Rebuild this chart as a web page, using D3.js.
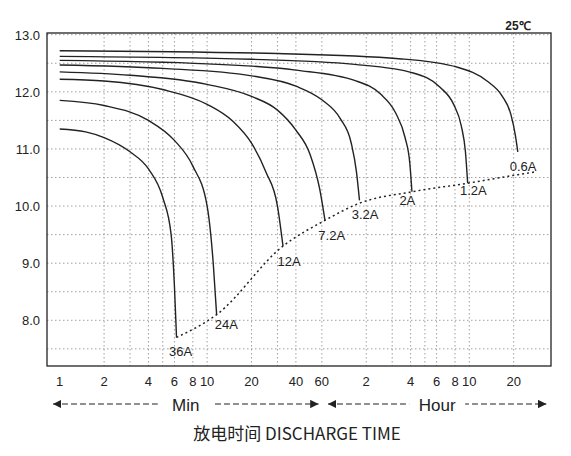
<!DOCTYPE html>
<html><head><meta charset="utf-8">
<script src="https://cdn.jsdelivr.net/npm/d3@7"></script>
<style>body{margin:0;background:#fff}</style></head>
<body><svg id="c" width="571" height="456"></svg>
<script>
const tickMinutes=[1,2,4,6,8,10,20,40,60,120,240,360,480,600,1200];
const tickLabels=["1","2","4","6","8","10","20","40","60","2","4","6","8","10","20"];
const gridMinutes=[2,3,4,5,6,8,10,20,30,40,60,120,180,240,300,360,480,600,1200];
const yTicks=[8,9,10,11,12,13];
const currents=["36A","24A","12A","7.2A","3.2A","2A","1.2A","0.6A"];
const curveTimes=[
 [1,1.5,2,3,4,5,5.7,6,6.2],
 [1,2,4,6,8,10,11,11.6],
 [1,2,5,10,15,20,25,30,32.7],
 [1,3,10,20,30,40,50,58,63],
 [1,5,20,40,60,80,95,103,108],
 [1,10,40,100,150,190,220,237,245],
 [1,20,100,250,380,470,530,565,585],
 [1,30,200,500,800,1000,1150,1230,1280]];
const curveVolts=[
 [11.35,11.3,11.2,10.95,10.65,10.15,9.5,8.6,7.7],
 [11.85,11.76,11.5,11.15,10.7,10.0,9.0,8.1],
 [12.22,12.19,12.04,11.78,11.48,11.1,10.6,10.0,9.3],
 [12.35,12.29,12.13,11.92,11.68,11.33,10.9,10.3,9.75],
 [12.47,12.41,12.28,12.1,11.86,11.53,11.1,10.6,10.1],
 [12.55,12.49,12.38,12.2,11.96,11.63,11.2,10.75,10.25],
 [12.62,12.57,12.48,12.33,12.08,11.78,11.4,10.95,10.4],
 [12.72,12.67,12.58,12.43,12.18,11.93,11.6,11.25,10.95]];
const cutTimes=[6.2,11.6,32.7,63,108,245,585,1280,1700];
const cutVolts=[7.7,8.1,9.3,9.75,10.05,10.25,10.4,10.55,10.6];
const labelTimes=[6.6,13.5,36,70,118,228,640,1390];
const labelVolts=[7.38,7.85,8.95,9.4,9.78,10.02,10.2,10.62];

const svg=d3.select("#c");
const L=47,R=551,T=33,B=366;
const x=d3.scaleLog().domain([0.82,2150]).range([L,R]);
const y=d3.scaleLinear().domain([7.2,13.03]).range([B,T]);
const g=svg.append("g");
g.selectAll(".gx").data(gridMinutes).join("line").attr("x1",d=>x(d)).attr("x2",d=>x(d)).attr("y1",T).attr("y2",B).attr("stroke","#888").attr("stroke-width",0.8).attr("stroke-dasharray","1.5,2.5");
g.selectAll(".gy").data(d3.range(7.5,13.01,0.5)).join("line").attr("x1",L).attr("x2",R).attr("y1",d=>y(d)).attr("y2",d=>y(d)).attr("stroke","#888").attr("stroke-width",0.8).attr("stroke-dasharray","1.5,2.5");
g.append("rect").attr("x",L).attr("y",T).attr("width",R-L).attr("height",B-T).attr("fill","none").attr("stroke","#222").attr("stroke-width",1.3);
g.selectAll(".yl").data(yTicks).join("text").attr("x",L-7).attr("y",d=>y(d)+5).attr("text-anchor","end").attr("font-family","Liberation Sans, Arial").attr("font-size",13).attr("fill","#222").text(d=>d.toFixed(1));
g.selectAll(".xl").data(tickMinutes).join("text").attr("x",d=>x(d)).attr("y",B+20).attr("text-anchor","middle").attr("font-family","Liberation Sans, Arial").attr("font-size",13).attr("fill","#222").text((d,i)=>tickLabels[i]);
const line=d3.line().x(d=>x(d[0])).y(d=>y(d[1])).curve(d3.curveMonotoneX);
curveTimes.forEach((ts,i)=>{
 g.append("path").attr("d",line(ts.map((t,j)=>[t,curveVolts[i][j]]))).attr("fill","none").attr("stroke","#222").attr("stroke-width",1.4);
});
g.append("path").attr("d",line(cutTimes.map((t,j)=>[t,cutVolts[j]]))).attr("fill","none").attr("stroke","#222").attr("stroke-width",1.5).attr("stroke-dasharray","2,3");
g.selectAll(".lab").data(currents).join("text").attr("x",(d,i)=>x(labelTimes[i])).attr("y",(d,i)=>y(labelVolts[i])).attr("text-anchor","middle").attr("font-family","Liberation Sans, Arial").attr("font-size",13).attr("fill","#222").text(d=>d);
g.append("text").attr("x",518).attr("y",30).attr("text-anchor","middle").attr("font-family","Liberation Sans, Arial").attr("font-weight","bold").attr("font-size",12).attr("fill","#222").text("25℃");
const defs=svg.append("defs");
defs.append("marker").attr("id","ar").attr("viewBox","0 0 10 10").attr("refX",10).attr("refY",5).attr("markerWidth",7).attr("markerHeight",7).attr("orient","auto-start-reverse").append("path").attr("d","M0,0L10,5L0,10z").attr("fill","#222");
function arrow(a,b,label){
 const y0=404;
 g.append("line").attr("x1",x(a)).attr("x2",x(b)).attr("y1",y0).attr("y2",y0).attr("stroke","#222").attr("stroke-width",1.2).attr("stroke-dasharray","6,3").attr("marker-start","url(#ar)").attr("marker-end","url(#ar)");
 const cx=(x(a)+x(b))/2;
 g.append("rect").attr("x",cx-28).attr("y",y0-10).attr("width",56).attr("height",20).attr("fill","#fff");
 g.append("text").attr("x",cx).attr("y",y0+7).attr("text-anchor","middle").attr("font-family","Liberation Sans, Arial").attr("font-size",17).attr("fill","#222").text(label);
}
arrow(0.9,57,"Min");
arrow(66,2000,"Hour");
g.append("text").attr("x",297).attr("y",440).attr("text-anchor","middle").attr("font-family","Noto Sans CJK SC, Liberation Sans").attr("font-size",17).attr("fill","#222").text("放电时间  DISCHARGE TIME");
</script></body></html>
